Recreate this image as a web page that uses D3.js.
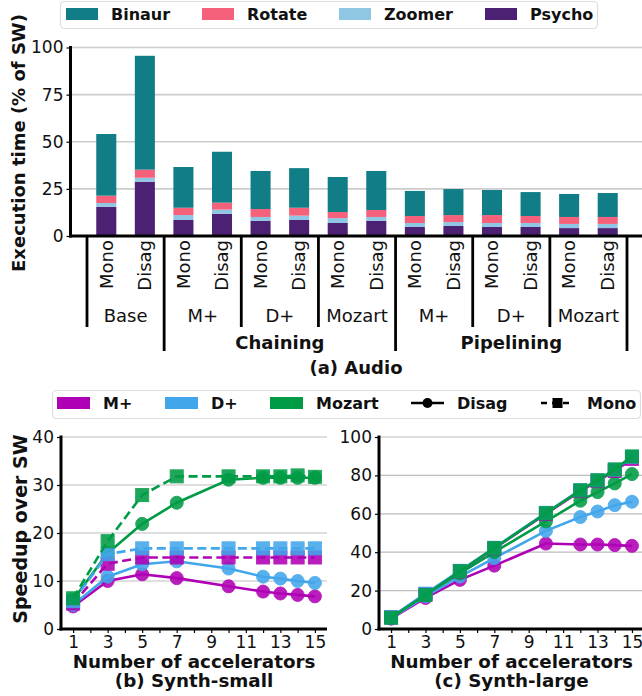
<!DOCTYPE html>
<html><head><meta charset="utf-8">
<script src="https://cdn.jsdelivr.net/npm/d3@7"></script>
<style>body{margin:0;background:#fff}svg{display:block;font-family:"DejaVu Sans",sans-serif}</style>
</head><body><svg id="c" width="642" height="696"></svg>
<script>
// ---------- data: (a) Audio ----------
const components = ["Binaur", "Rotate", "Zoomer", "Psycho"];
const configs = ["Mono","Disag","Mono","Disag","Mono","Disag","Mono","Disag","Mono","Disag","Mono","Disag","Mono","Disag"];
const systems = ["Base", "M+", "D+", "Mozart", "M+", "D+", "Mozart"];
const modes = ["", "Chaining", "Pipelining"];
const modeSpans = [[0,1],[1,4],[4,7]];
const psycho = [15.5, 28.8, 8.5, 11.8, 8.1, 8.5, 6.9, 8.0, 4.8, 5.3, 4.8, 4.8, 4.2, 4.2];
const zoomer = [2.0, 2.1, 2.6, 2.2, 2.0, 2.3, 2.6, 2.1, 2.1, 2.1, 2.1, 2.1, 2.2, 2.2];
const rotate = [3.9, 4.3, 3.9, 3.7, 4.2, 4.2, 3.2, 3.7, 3.7, 3.7, 4.2, 3.7, 3.7, 3.7];
const binaur = [32.7, 60.4, 21.6, 27.0, 20.2, 21.0, 18.6, 20.7, 13.3, 13.8, 13.3, 12.7, 12.2, 12.7];
const yTicksA = [0, 25, 50, 75, 100];

// ---------- data: (b),(c) ----------
const accels = [1, 3, 5, 7, 10, 12, 13, 14, 15];
const xTickVals = [1,2,3,4,5,6,7,8,9,10,11,12,13,14,15];
const xTickLabels = [1, 3, 5, 7, 9, 11, 13, 15];
const archs = ["M+", "D+", "Mozart"];
const styles = ["Disag", "Mono"];
const smallMPlusDisag = [4.7, 10.0, 11.4, 10.6, 8.9, 7.8, 7.4, 7.1, 6.8];
const smallMPlusMono = [5.3, 13.6, 14.9, 14.9, 14.9, 14.9, 14.9, 14.9, 14.9];
const smallDPlusDisag = [5.0, 10.9, 13.5, 14.1, 12.6, 10.9, 10.5, 10.0, 9.6];
const smallDPlusMono = [5.8, 15.6, 16.8, 16.8, 16.8, 16.8, 16.8, 16.8, 16.8];
const smallMozartDisag = [6.1, 15.8, 21.9, 26.3, 31.1, 31.5, 31.5, 31.5, 31.5];
const smallMozartMono = [6.4, 18.3, 27.9, 31.8, 31.8, 31.8, 31.8, 32.0, 31.7];
const largeMPlusDisag = [5.4, 16.2, 25.6, 33.0, 44.5, 44.0, 44.0, 43.7, 43.3];
const largeMPlusMono = [6.0, 18.2, 30.0, 42.0, 60.0, 71.8, 77.0, 82.3, 88.6];
const largeDPlusDisag = [5.6, 17.0, 27.3, 36.9, 51.1, 58.3, 61.2, 64.5, 66.3];
const largeDPlusMono = [6.1, 18.4, 30.3, 42.3, 60.5, 72.3, 77.5, 83.0, 89.6];
const largeMozartDisag = [6.0, 18.0, 29.0, 40.0, 56.0, 66.8, 71.3, 75.8, 80.7];
const largeMozartMono = [5.9, 17.7, 30.1, 42.1, 60.3, 72.2, 77.4, 83.1, 89.9];
const yTicksSmall = [0, 10, 20, 30, 40];
const yTicksLarge = [0, 20, 40, 60, 80, 100];

// ---------- colours ----------
const compColor = {Binaur:"#107d87", Rotate:"#f5617a", Zoomer:"#8ec6e4", Psycho:"#4c2174"};
const archColor = {"M+":"#b000b5", "D+":"#42a6ea", "Mozart":"#009c45"};

const svg = d3.select("#c");

// ================= (a) Audio =================
const rows = d3.range(14).map(i => ({i, Psycho: psycho[i], Zoomer: zoomer[i], Rotate: rotate[i], Binaur: binaur[i]}));
const stackOrder = ["Psycho", "Zoomer", "Rotate", "Binaur"];
const stacked = d3.stack().keys(stackOrder)(rows);

const xA = d3.scaleBand().domain(d3.range(14)).range([87, 627]).paddingInner(0.48).paddingOuter(0.24);
const yA = d3.scaleLinear().domain([0, 100]).range([236, 47.5]);
const axLeft = 70.5, axRight = 645;

const gA = svg.append("g");
gA.append("g").selectAll("line").data(yTicksA.slice(1)).join("line")
  .attr("x1", axLeft).attr("x2", axRight).attr("y1", d => yA(d)).attr("y2", d => yA(d))
  .attr("stroke", "#cccccc").attr("stroke-width", 1.6);

gA.append("g").selectAll("g").data(stacked).join("g")
  .attr("fill", s => compColor[s.key])
  .selectAll("rect").data(s => s).join("rect")
  .attr("x", d => xA(d.data.i)).attr("width", xA.bandwidth())
  .attr("y", d => yA(d[1])).attr("height", d => yA(d[0]) - yA(d[1]));

const yAxisA = d3.axisLeft(yA).tickValues(yTicksA).tickSize(4).tickPadding(3);
const ya = gA.append("g").attr("transform", `translate(${axLeft},0)`).call(yAxisA);
ya.select(".domain").remove();
ya.selectAll(".tick line").attr("stroke", "#000").attr("stroke-width", 1.2);
ya.selectAll(".tick text").attr("font-size", 17).attr("fill", "#111").attr("font-family", "DejaVu Sans");

gA.append("line").attr("x1", axLeft).attr("x2", axLeft).attr("y1", yA(100) - 1.5).attr("y2", yA(0) + 1.5)
  .attr("stroke", "#000").attr("stroke-width", 3);
gA.append("line").attr("x1", axLeft - 1.5).attr("x2", axRight).attr("y1", yA(0)).attr("y2", yA(0))
  .attr("stroke", "#000").attr("stroke-width", 3);

// config labels
gA.append("g").selectAll("text").data(configs).join("text")
  .attr("transform", (d, i) => `translate(${xA(i) + xA.bandwidth() / 2},240) rotate(-90)`)
  .attr("text-anchor", "end").attr("dy", "0.35em").attr("font-size", 18).attr("fill", "#111")
  .text(d => d);

const step = xA.step();
const bx = k => k === 7 ? xA(12) + step * (2 - xA.paddingInner() / 2) : xA(2 * k) - step * xA.paddingInner() / 2;
const longBounds = new Set([1, 4, 7]);
gA.append("g").selectAll("line").data(d3.range(8)).join("line")
  .attr("x1", k => bx(k)).attr("x2", k => bx(k))
  .attr("y1", 236).attr("y2", k => longBounds.has(k) ? 351 : 327)
  .attr("stroke", "#000").attr("stroke-width", 2.8);

gA.append("g").selectAll("text").data(systems).join("text")
  .attr("x", (d, j) => (bx(j) + bx(j + 1)) / 2).attr("y", 322)
  .attr("text-anchor", "middle").attr("font-size", 18).attr("fill", "#111").text(d => d);
gA.append("g").selectAll("text").data(modes).join("text")
  .attr("x", (d, j) => (bx(modeSpans[j][0]) + bx(modeSpans[j][1])) / 2).attr("y", 349)
  .attr("text-anchor", "middle").attr("font-size", 18).attr("font-weight", "bold").attr("fill", "#111").text(d => d);
gA.append("text").attr("x", 356).attr("y", 374).attr("text-anchor", "middle")
  .attr("font-size", 18).attr("font-weight", "bold").attr("fill", "#111").text("(a) Audio");

gA.append("text").attr("transform", "translate(19,143) rotate(-90)").attr("dy", "0.35em")
  .attr("text-anchor", "middle").attr("font-size", 18).attr("font-weight", "bold").attr("fill", "#111")
  .text("Execution time (% of SW)");

// legend (a)
const legA = svg.append("g");
legA.append("rect").attr("x", 60.5).attr("y", 1.5).attr("width", 537).attr("height", 27).attr("rx", 4)
  .attr("fill", "#fff").attr("stroke", "#dddddd").attr("stroke-width", 1.2);
const legAx = [66, 202, 339, 485];
components.forEach((c, i) => {
  legA.append("rect").attr("x", legAx[i]).attr("y", 8).attr("width", 32).attr("height", 12).attr("fill", compColor[c]);
  legA.append("text").attr("x", legAx[i] + 45).attr("y", 20).attr("font-size", 16).attr("font-weight", "bold")
    .attr("fill", "#111").text(c);
});

// ================= (b),(c) =================
const smallSeries = {
  "M+": {Disag: smallMPlusDisag, Mono: smallMPlusMono},
  "D+": {Disag: smallDPlusDisag, Mono: smallDPlusMono},
  "Mozart": {Disag: smallMozartDisag, Mono: smallMozartMono}
};
const largeSeries = {
  "M+": {Disag: largeMPlusDisag, Mono: largeMPlusMono},
  "D+": {Disag: largeDPlusDisag, Mono: largeDPlusMono},
  "Mozart": {Disag: largeMozartDisag, Mono: largeMozartMono}
};

function panel(x0, x1, ymax, yTicks, series, title, showYLabel, monoDashed) {
  const g = svg.append("g");
  const x = d3.scaleLinear().domain([0.3, 15.7]).range([x0, x1]);
  const y = d3.scaleLinear().domain([0, ymax]).range([629, 437]);
  g.append("g").selectAll("line").data(yTicks.slice(1)).join("line")
    .attr("x1", x0).attr("x2", x1).attr("y1", d => y(d)).attr("y2", d => y(d))
    .attr("stroke", "#bdbdbd").attr("stroke-width", 1.2);

  const ax = g.append("g").attr("transform", `translate(${x0},0)`)
    .call(d3.axisLeft(y).tickValues(yTicks).tickSize(4).tickPadding(3));
  ax.select(".domain").remove();
  ax.selectAll(".tick line").attr("stroke", "#000").attr("stroke-width", 1.2);
  ax.selectAll(".tick text").attr("font-size", 17).attr("fill", "#111").attr("font-family", "DejaVu Sans");

  const bax = g.append("g").attr("transform", "translate(0,629)")
    .call(d3.axisBottom(x).tickValues(xTickVals).tickSize(4).tickPadding(3)
      .tickFormat(d => xTickLabels.includes(d) ? d : ""));
  bax.select(".domain").remove();
  bax.selectAll(".tick line").attr("stroke", "#000").attr("stroke-width", 1.2);
  bax.selectAll(".tick text").attr("font-size", 17).attr("fill", "#111").attr("font-family", "DejaVu Sans");

  const line = d3.line().x((d, i) => x(accels[i])).y(d => y(d));
  const order = [];
  styles.forEach(s => archs.forEach(a => order.push([a, s])));
  order.forEach(([a, s]) => {
    const vals = series[a][s];
    const col = archColor[a];
    g.append("path").datum(vals).attr("d", line).attr("fill", "none").attr("stroke", col)
      .attr("stroke-width", 2.6).attr("stroke-dasharray", (s === "Mono" && monoDashed) ? "9,4.5" : null);
    const mg = g.append("g").attr("fill", col).attr("stroke", col).attr("stroke-width", 1).attr("opacity", 0.88);
    if (s === "Disag") {
      mg.selectAll("circle").data(vals).join("circle")
        .attr("cx", (d, i) => x(accels[i])).attr("cy", d => y(d)).attr("r", 6.5);
    } else {
      mg.selectAll("rect").data(vals).join("rect")
        .attr("x", (d, i) => x(accels[i]) - 6.5).attr("y", d => y(d) - 6.5).attr("width", 13).attr("height", 13);
    }
  });

  g.append("line").attr("x1", x0).attr("x2", x0).attr("y1", y(ymax) - 1.5).attr("y2", 630.5)
    .attr("stroke", "#000").attr("stroke-width", 3);
  g.append("line").attr("x1", x0 - 1.5).attr("x2", x1).attr("y1", 629).attr("y2", 629)
    .attr("stroke", "#000").attr("stroke-width", 3);

  const cx = (x0 + x1) / 2;
  g.append("text").attr("x", cx).attr("y", 668).attr("text-anchor", "middle").attr("font-size", 18.3)
    .attr("font-weight", "bold").attr("fill", "#111").text("Number of accelerators");
  g.append("text").attr("x", cx).attr("y", 687).attr("text-anchor", "middle").attr("font-size", 18.3)
    .attr("font-weight", "bold").attr("fill", "#111").text(title);
  if (showYLabel) {
    g.append("text").attr("transform", "translate(20,529) rotate(-90)").attr("dy", "0.35em")
      .attr("text-anchor", "middle").attr("font-size", 19).attr("font-weight", "bold").attr("fill", "#111")
      .text("Speedup over SW");
  }
}
panel(61, 327, 40, yTicksSmall, smallSeries, "(b) Synth-small", true, true);
panel(379, 644, 100, yTicksLarge, largeSeries, "(c) Synth-large", false, false);

// legend (b,c)
const legB = svg.append("g");
legB.append("rect").attr("x", 52.5).attr("y", 390.5).attr("width", 588).attr("height", 28).attr("rx", 4)
  .attr("fill", "#fff").attr("stroke", "#dddddd").attr("stroke-width", 1.2);
const archLegX = [57, 165, 270];
archs.forEach((a, i) => {
  legB.append("rect").attr("x", archLegX[i]).attr("y", 397).attr("width", 33).attr("height", 12).attr("fill", archColor[a]);
  legB.append("text").attr("x", archLegX[i] + 46).attr("y", 409).attr("font-size", 16).attr("font-weight", "bold")
    .attr("fill", "#111").text(a);
});
const styleLegX = [411, 541];
styles.forEach((s, i) => {
  const lx = styleLegX[i];
  legB.append("line").attr("x1", lx).attr("x2", lx + 33).attr("y1", 403).attr("y2", 403)
    .attr("stroke", "#000").attr("stroke-width", 2.4).attr("stroke-dasharray", s === "Mono" ? "6,5" : null);
  if (s === "Disag") legB.append("circle").attr("cx", lx + 16.5).attr("cy", 403).attr("r", 5).attr("fill", "#000");
  else legB.append("rect").attr("x", lx + 11.5).attr("y", 398).attr("width", 10).attr("height", 10).attr("fill", "#000");
  legB.append("text").attr("x", lx + 46).attr("y", 409).attr("font-size", 16).attr("font-weight", "bold")
    .attr("fill", "#111").text(s);
});
</script></body></html>
